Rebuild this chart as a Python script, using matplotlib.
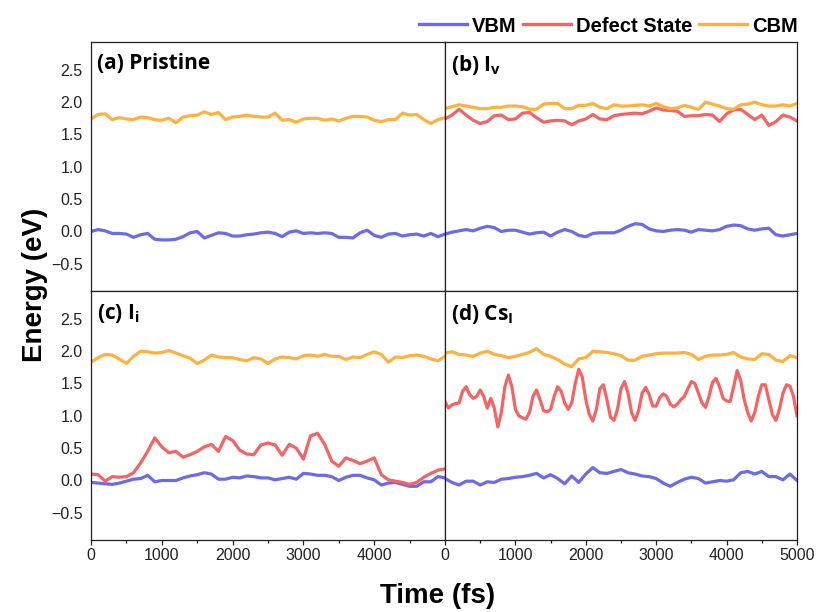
import matplotlib
matplotlib.use("Agg")
import matplotlib.pyplot as plt
from matplotlib.lines import Line2D

# ---------------- data ----------------
time_100 = list(range(0, 5001, 100))   # fs
time_50 = list(range(0, 5001, 50))     # fs

# (a) Pristine
a_vbm = [0.00, 0.03, 0.01, -0.03, -0.03, -0.04, -0.09, -0.05, -0.03, -0.12,
         -0.13, -0.13, -0.12, -0.08, -0.02, 0.00, -0.10, -0.06, -0.02, -0.03,
         -0.07, -0.07, -0.05, -0.04, -0.02, -0.01, -0.03, -0.08, -0.01, 0.01,
         -0.03, -0.02, -0.03, -0.02, -0.03, -0.09, -0.09, -0.10, -0.02, 0.02,
         -0.06, -0.09, -0.04, -0.03, -0.07, -0.05, -0.04, -0.07, -0.03, -0.08,
         -0.04]
a_cbm = [1.74, 1.81, 1.82, 1.73, 1.76, 1.74, 1.73, 1.77, 1.76, 1.73,
         1.72, 1.75, 1.68, 1.77, 1.79, 1.80, 1.85, 1.81, 1.84, 1.73,
         1.77, 1.78, 1.80, 1.78, 1.77, 1.77, 1.83, 1.72, 1.73, 1.69,
         1.74, 1.75, 1.75, 1.72, 1.74, 1.71, 1.75, 1.78, 1.78, 1.77,
         1.72, 1.70, 1.73, 1.73, 1.83, 1.80, 1.81, 1.73, 1.67, 1.73,
         1.76]

# (b) I_v
b_vbm = [-0.04, -0.01, 0.01, 0.03, 0.01, 0.05, 0.08, 0.06, 0.00, 0.02,
         0.02, -0.01, -0.04, -0.02, -0.01, -0.07, -0.01, 0.03, 0.00, -0.06,
         -0.08, -0.03, -0.02, -0.02, -0.02, 0.02, 0.08, 0.12, 0.11, 0.04,
         0.01, 0.00, 0.02, 0.03, 0.02, -0.01, 0.03, 0.02, 0.01, 0.03,
         0.08, 0.10, 0.09, 0.04, 0.02, 0.04, 0.05, -0.05, -0.07, -0.05,
         -0.03]
b_defect = [1.74, 1.80, 1.89, 1.80, 1.72, 1.67, 1.70, 1.79, 1.80, 1.73,
            1.74, 1.83, 1.84, 1.76, 1.69, 1.71, 1.72, 1.71, 1.65, 1.71,
            1.74, 1.81, 1.74, 1.73, 1.79, 1.81, 1.82, 1.83, 1.82, 1.86,
            1.91, 1.88, 1.87, 1.86, 1.78, 1.79, 1.79, 1.81, 1.80, 1.70,
            1.82, 1.88, 1.89, 1.81, 1.73, 1.80, 1.64, 1.70, 1.80, 1.77,
            1.71]
b_cbm = [1.90, 1.93, 1.96, 1.94, 1.92, 1.90, 1.90, 1.92, 1.92, 1.94,
         1.94, 1.93, 1.89, 1.89, 1.97, 1.98, 1.98, 1.90, 1.90, 1.95,
         1.95, 1.98, 1.92, 1.90, 1.96, 1.94, 1.94, 1.95, 1.96, 1.94,
         1.98, 1.93, 1.90, 1.91, 1.95, 1.92, 1.89, 2.00, 1.97, 1.94,
         1.90, 1.89, 1.96, 1.97, 2.00, 1.96, 1.94, 1.94, 1.96, 1.94,
         1.98]

# (c) I_i
c_vbm = [-0.03, -0.04, -0.05, -0.06, -0.04, -0.01, 0.02, 0.03, 0.08, -0.02,
         0.00, 0.00, 0.00, 0.04, 0.07, 0.09, 0.12, 0.10, 0.02, 0.02,
         0.05, 0.04, 0.07, 0.06, 0.04, 0.04, 0.01, 0.03, 0.05, 0.02,
         0.11, 0.10, 0.08, 0.08, 0.06, 0.00, 0.05, 0.08, 0.08, 0.04,
         0.01, -0.07, -0.04, -0.03, -0.06, -0.09, -0.09, -0.02, -0.02, 0.06,
         0.04]
c_defect = [0.10, 0.09, -0.01, 0.06, 0.05, 0.06, 0.12, 0.27, 0.45, 0.66,
            0.52, 0.43, 0.45, 0.36, 0.40, 0.45, 0.52, 0.56, 0.45, 0.68,
            0.62, 0.47, 0.41, 0.40, 0.55, 0.58, 0.55, 0.39, 0.56, 0.50,
            0.33, 0.69, 0.73, 0.56, 0.30, 0.22, 0.35, 0.31, 0.26, 0.30,
            0.35, 0.09, 0.01, -0.01, -0.03, -0.06, -0.03, 0.05, 0.11, 0.16,
            0.18]
c_cbm = [1.83, 1.90, 1.95, 1.94, 1.88, 1.81, 1.92, 2.00, 1.99, 1.97,
         1.98, 2.01, 1.97, 1.93, 1.89, 1.81, 1.86, 1.94, 1.91, 1.90,
         1.90, 1.87, 1.85, 1.90, 1.88, 1.81, 1.88, 1.91, 1.90, 1.88,
         1.93, 1.94, 1.92, 1.95, 1.92, 1.92, 1.87, 1.91, 1.90, 1.95,
         1.99, 1.95, 1.83, 1.91, 1.90, 1.93, 1.94, 1.92, 1.88, 1.85,
         1.92]

# (d) Cs_I
d_vbm = [0.03, -0.03, -0.07, -0.01, -0.01, -0.07, -0.02, -0.03, 0.02, 0.03,
         0.05, 0.06, 0.08, 0.11, 0.04, 0.09, 0.03, -0.05, 0.07, -0.03,
         0.10, 0.20, 0.12, 0.11, 0.14, 0.17, 0.12, 0.10, 0.07, 0.06,
         0.03, -0.04, -0.09, -0.03, 0.02, 0.05, 0.03, -0.04, -0.02, 0.00,
         -0.01, 0.01, 0.12, 0.14, 0.10, 0.14, 0.06, 0.06, 0.01, 0.10,
         0.00]
d_defect = [1.22, 1.12, 1.17, 1.19, 1.20, 1.38, 1.45, 1.33, 1.27, 1.30,
            1.40, 1.30, 1.12, 1.27, 1.12, 0.83, 1.05, 1.45, 1.63, 1.45,
            1.10, 1.00, 0.97, 0.95, 1.05, 1.30, 1.40, 1.25, 1.08, 1.06,
            1.10, 1.30, 1.45, 1.38, 1.20, 1.10, 1.20, 1.50, 1.72, 1.60,
            1.25, 1.02, 0.92, 1.10, 1.42, 1.48, 1.25, 0.98, 0.93, 1.10,
            1.42, 1.53, 1.35, 1.05, 0.93, 1.08, 1.35, 1.44, 1.33, 1.15,
            1.15, 1.28, 1.34, 1.30, 1.18, 1.14, 1.18, 1.25, 1.30, 1.42,
            1.53, 1.50, 1.35, 1.20, 1.13, 1.30, 1.52, 1.58, 1.45, 1.27,
            1.23, 1.22, 1.45, 1.70, 1.55, 1.25, 1.05, 0.92, 1.05, 1.30,
            1.48, 1.48, 1.25, 1.02, 0.93, 1.10, 1.35, 1.48, 1.46, 1.30,
            1.00]
d_cbm = [1.97, 1.99, 1.95, 1.94, 1.92, 1.97, 2.00, 1.95, 1.93, 1.90,
         1.92, 1.95, 1.98, 2.04, 1.95, 1.92, 1.87, 1.80, 1.76, 1.88,
         1.90, 2.00, 1.99, 1.98, 1.96, 1.93, 1.86, 1.86, 1.92, 1.94,
         1.96, 1.97, 1.97, 1.97, 1.98, 1.95, 1.87, 1.92, 1.94, 1.94,
         1.95, 1.98, 1.91, 1.88, 1.87, 1.96, 1.95, 1.86, 1.84, 1.93,
         1.90]

panel_titles = ["(a) Pristine", r"(b) I$_\mathregular{v}$",
                r"(c) I$_\mathregular{i}$", r"(d) Cs$_\mathregular{I}$"]
series_names = ["VBM", "Defect State", "CBM"]
y_ticks = [-0.5, 0.0, 0.5, 1.0, 1.5, 2.0, 2.5]

# ---------------- style ----------------
plt.rcParams["font.family"] = ["Liberation Sans", "DejaVu Sans"]
plt.rcParams["mathtext.fontset"] = "custom"
plt.rcParams["mathtext.rm"] = "Open Sans:bold"
plt.rcParams["mathtext.it"] = "Open Sans:bold"
plt.rcParams["mathtext.bf"] = "Open Sans:bold"

C_VBM = "#6b6bea"
C_DEF = "#f46464"
C_CBM = "#ffb13f"
LW = 2.3

fig = plt.figure(figsize=(8.19, 6.12), dpi=100)

L, M, R = 91 / 819, 445 / 819, 797 / 819
T, MID, B = 1 - 42 / 612, 1 - 291 / 612, 1 - 540 / 612

rects = [(L, MID, M - L, T - MID), (M, MID, R - M, T - MID),
         (L, B, M - L, MID - B), (M, B, R - M, MID - B)]

panels = [
    (time_100, a_vbm, None, None, time_100, a_cbm),
    (time_100, b_vbm, time_100, b_defect, time_100, b_cbm),
    (time_100, c_vbm, time_100, c_defect, time_100, c_cbm),
    (time_100, d_vbm, time_50, d_defect, time_100, d_cbm),
]

for i, (rect, pdata) in enumerate(zip(rects, panels)):
    ax = fig.add_axes(rect)
    tv, vbm, td, dfx, tc, cbm = pdata
    ax.plot(tv, vbm, color=C_VBM, lw=LW, solid_joinstyle="round")
    if dfx is not None:
        ax.plot(td, dfx, color=C_DEF, lw=LW, solid_joinstyle="round")
    ax.plot(tc, cbm, color=C_CBM, lw=LW, solid_joinstyle="round")
    ax.set_xlim(0, 5000)
    ax.set_ylim(-0.92, 2.93)
    for sp in ax.spines.values():
        sp.set_linewidth(0.9)
        sp.set_color("#222222")
    ax.set_yticks(y_ticks)
    ax.tick_params(axis="y", length=0, pad=6, labelsize=11.5, colors="#222222")
    if i % 2 == 1:
        ax.tick_params(axis="y", labelleft=False)
    if i >= 2:
        if i == 2:
            ax.set_xticks([0, 1000, 2000, 3000, 4000])
        else:
            ax.set_xticks([0, 1000, 2000, 3000, 4000, 5000])
        ax.set_xticks(range(500, 5000, 1000), minor=True)
        ax.tick_params(axis="x", which="major", direction="out", length=3.5,
                       width=0.9, pad=2, labelsize=11.5, colors="#222222")
        ax.tick_params(axis="x", which="minor", direction="out", length=2,
                       width=0.9)
    else:
        ax.set_xticks([])
    ax.text(0.016, 0.955, panel_titles[i], transform=ax.transAxes,
            ha="left", va="top", fontsize=15, fontweight="bold",
            family=["Open Sans", "DejaVu Sans"])

fig.text(0.043, 0.534, "Energy (eV)", rotation=90, ha="center", va="center",
         fontsize=20, fontweight="bold")
fig.text(0.534, 0.026, "Time (fs)", ha="center", va="center",
         fontsize=20, fontweight="bold")

handles = [Line2D([], [], color=C_VBM, lw=2.4),
           Line2D([], [], color=C_DEF, lw=2.4),
           Line2D([], [], color=C_CBM, lw=2.4)]
leg = fig.legend(handles, series_names, loc="center right",
                 bbox_to_anchor=(R + 0.001, 1 - 26 / 612), ncol=3,
                 frameon=False, borderaxespad=0, borderpad=0,
                 handlelength=2.4, handletextpad=0.25, columnspacing=0.3,
                 prop={"weight": "bold", "size": 14.5})

fig.savefig("out.png", dpi=100)
